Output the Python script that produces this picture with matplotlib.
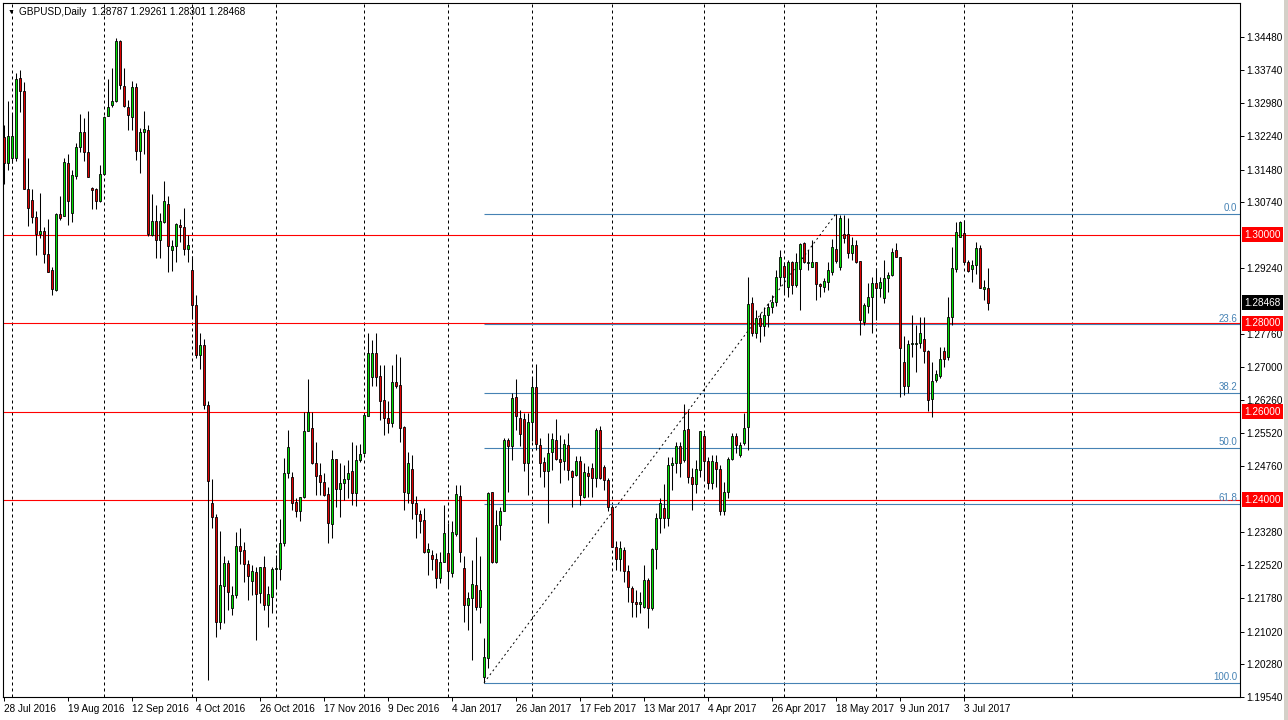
import matplotlib.pyplot as plt
import matplotlib.transforms as mtransforms
from matplotlib.patches import Rectangle

plt.rcParams["font.family"] = ["Liberation Sans", "DejaVu Sans"]

# GBPUSD daily bars, 28 Jul 2016 .. 11 Jul 2017 (bar index = trading day)
opens = [
    1.3221, 1.3162, 1.3173, 1.3173, 1.3356, 1.3325, 1.3104, 1.3078, 1.3040, 1.3002,
    1.3008, 1.2956, 1.2921, 1.2875, 1.3047, 1.3042, 1.3162, 1.3050, 1.3134, 1.3198,
    1.3232, 1.3188, 1.3107, 1.3103, 1.3076, 1.3137, 1.3269, 1.3294, 1.3303, 1.3438,
    1.3338, 1.3290, 1.3266, 1.3335, 1.3190, 1.3234, 1.3238, 1.3000, 1.3031, 1.2989,
    1.3029, 1.3070, 1.2966, 1.2975, 1.3022, 1.3018, 1.2968, 1.2920, 1.2842, 1.2729,
    1.2750, 1.2616, 1.2392, 1.2362, 1.2124, 1.2204, 1.2257, 1.2156, 1.2184, 1.2295,
    1.2287, 1.2254, 1.2216, 1.2237, 1.2189, 1.2248, 1.2161, 1.2180, 1.2243, 1.2243,
    1.2303, 1.2460, 1.2453, 1.2396, 1.2376, 1.2406, 1.2555, 1.2562, 1.2484, 1.2456,
    1.2441, 1.2413, 1.2345, 1.2492, 1.2424, 1.2438, 1.2447, 1.2466, 1.2415, 1.2490,
    1.2507, 1.2590, 1.2678, 1.2732, 1.2681, 1.2626, 1.2585, 1.2574, 1.2668, 1.2660,
    1.2565, 1.2416, 1.2471, 1.2392, 1.2367, 1.2354, 1.2281, 1.2276, 1.2266, 1.2224,
    1.2259, 1.2279, 1.2234, 1.2322, 1.2409, 1.2245, 1.2161, 1.2177, 1.2208, 1.2158,
    1.1998, 1.2043, 1.2417, 1.2260, 1.2343, 1.2374, 1.2536, 1.2521, 1.2632, 1.2585,
    1.2583, 1.2484, 1.2577, 1.2656, 1.2525, 1.2485, 1.2465, 1.2509, 1.2536, 1.2492,
    1.2487, 1.2525, 1.2466, 1.2456, 1.2488, 1.2406, 1.2460, 1.2473, 1.2449, 1.2558,
    1.2475, 1.2444, 1.2383, 1.2293, 1.2266, 1.2287, 1.2239, 1.2200, 1.2169, 1.2164,
    1.2157, 1.2219, 1.2155, 1.2289, 1.2359, 1.2381, 1.2359, 1.2479, 1.2483, 1.2522,
    1.2490, 1.2560, 1.2451, 1.2436, 1.2468, 1.2545, 1.2487, 1.2439, 1.2485, 1.2469,
    1.2374, 1.2419, 1.2492, 1.2545, 1.2502, 1.2528, 1.2566, 1.2845, 1.2777, 1.2811,
    1.2794, 1.2819, 1.2837, 1.2849, 1.2904, 1.2930, 1.2881, 1.2939, 1.2887, 1.2923,
    1.2981, 1.2936, 1.2928, 1.2939, 1.2889, 1.2881, 1.2894, 1.2915, 1.2968, 1.2928,
    1.3002, 1.3002, 1.2960, 1.2977, 1.2941, 1.2802, 1.2839, 1.2860, 1.2890, 1.2879,
    1.2857, 1.2903, 1.2909, 1.2966, 1.2949, 1.2712, 1.2659, 1.2752, 1.2752, 1.2755,
    1.2764, 1.2737, 1.2628, 1.2672, 1.2681, 1.2737, 1.2723, 1.2814, 1.2923, 1.2995,
    1.3004, 1.2939, 1.2922, 1.2932, 1.2970, 1.2877, 1.28787,
]
highs = [
    1.3248, 1.3303, 1.3277, 1.3367, 1.3373, 1.3347, 1.3175, 1.3103, 1.3053, 1.3094,
    1.3019, 1.3035, 1.2928, 1.3049, 1.3087, 1.3173, 1.3184, 1.3147, 1.3207, 1.3273,
    1.3264, 1.3280, 1.3109, 1.3107, 1.3159, 1.3269, 1.3352, 1.3377, 1.3445, 1.3441,
    1.3377, 1.3305, 1.3349, 1.3343, 1.3243, 1.3281, 1.3249, 1.3093, 1.3068, 1.3049,
    1.3123, 1.3089, 1.2989, 1.3028, 1.3036, 1.3060, 1.3000, 1.2953, 1.2863, 1.2777,
    1.2765, 1.2625, 1.2447, 1.2367, 1.2330, 1.2274, 1.2265, 1.2205, 1.2328, 1.2337,
    1.2304, 1.2265, 1.2253, 1.2249, 1.2249, 1.2273, 1.2204, 1.2249, 1.2275, 1.2356,
    1.2494, 1.2558, 1.2464, 1.2404, 1.2407, 1.2600, 1.2673, 1.2600, 1.2532, 1.2483,
    1.2460, 1.2430, 1.2513, 1.2492, 1.2483, 1.2479, 1.2490, 1.2532, 1.2524, 1.2527,
    1.2595, 1.2777, 1.2762, 1.2777, 1.2706, 1.2706, 1.2623, 1.2706, 1.2731, 1.2723,
    1.2568, 1.2509, 1.2502, 1.2409, 1.2378, 1.2381, 1.2302, 1.2287, 1.2279, 1.2283,
    1.2389, 1.2347, 1.2353, 1.2434, 1.2434, 1.2272, 1.2192, 1.2264, 1.2317, 1.2272,
    1.2087, 1.2417, 1.2419, 1.2377, 1.2385, 1.2540, 1.2540, 1.2642, 1.2673, 1.2604,
    1.2596, 1.2596, 1.2679, 1.2708, 1.2540, 1.2498, 1.2551, 1.2551, 1.2583, 1.2547,
    1.2537, 1.2551, 1.2468, 1.2499, 1.2499, 1.2483, 1.2477, 1.2483, 1.2562, 1.2567,
    1.2479, 1.2449, 1.2389, 1.2306, 1.2306, 1.2294, 1.2252, 1.2204, 1.2196, 1.2192,
    1.2253, 1.2223, 1.2291, 1.2370, 1.2404, 1.2436, 1.2498, 1.2498, 1.2532, 1.2532,
    1.2617, 1.2604, 1.2472, 1.2490, 1.2557, 1.2551, 1.2498, 1.2502, 1.2502, 1.2479,
    1.2441, 1.2498, 1.2551, 1.2551, 1.2532, 1.2596, 1.2905, 1.2860, 1.2830, 1.2823,
    1.2836, 1.2845, 1.2864, 1.2921, 1.2966, 1.2939, 1.2943, 1.2942, 1.2958, 1.2982,
    1.2985, 1.2966, 1.2988, 1.2939, 1.2891, 1.2902, 1.2939, 1.2990, 1.3048, 1.3045,
    1.3045, 1.3038, 1.2996, 1.2989, 1.2941, 1.2845, 1.2890, 1.2905, 1.2924, 1.2905,
    1.2943, 1.2917, 1.2970, 1.2981, 1.2951, 1.2770, 1.2762, 1.2819, 1.2796, 1.2815,
    1.2815, 1.2740, 1.2712, 1.2694, 1.2747, 1.2747, 1.2860, 1.2973, 1.3030, 1.3032,
    1.3034, 1.2943, 1.2943, 1.2983, 1.2977, 1.2898, 1.29261,
]
lows = [
    1.3116, 1.3147, 1.3163, 1.3168, 1.3279, 1.3103, 1.3020, 1.3026, 1.2954, 1.2992,
    1.2936, 1.2915, 1.2864, 1.2873, 1.3034, 1.3042, 1.3022, 1.3029, 1.3126, 1.3187,
    1.3168, 1.3131, 1.3058, 1.3058, 1.3075, 1.3136, 1.3269, 1.3290, 1.3301, 1.3330,
    1.3290, 1.3238, 1.3238, 1.3169, 1.3139, 1.3183, 1.2998, 1.2998, 1.2948, 1.2948,
    1.3026, 1.2917, 1.2918, 1.2939, 1.2985, 1.2954, 1.2939, 1.2814, 1.2722, 1.2697,
    1.2606, 1.1992, 1.2337, 1.2090, 1.2107, 1.2121, 1.2151, 1.2139, 1.2178, 1.2255,
    1.2214, 1.2174, 1.2185, 1.2083, 1.2166, 1.2151, 1.2113, 1.2144, 1.2200, 1.2219,
    1.2296, 1.2449, 1.2377, 1.2362, 1.2353, 1.2404, 1.2555, 1.2481, 1.2411, 1.2411,
    1.2409, 1.2302, 1.2313, 1.2385, 1.2361, 1.2400, 1.2404, 1.2389, 1.2387, 1.2486,
    1.2503, 1.2590, 1.2658, 1.2657, 1.2581, 1.2547, 1.2552, 1.2566, 1.2653, 1.2531,
    1.2377, 1.2392, 1.2356, 1.2313, 1.2324, 1.2280, 1.2230, 1.2242, 1.2201, 1.2211,
    1.2259, 1.2200, 1.2226, 1.2318, 1.2260, 1.2124, 1.2106, 1.2038, 1.2151, 1.2121,
    1.1986, 1.2019, 1.2257, 1.2257, 1.2309, 1.2374, 1.2419, 1.2490, 1.2558, 1.2521,
    1.2466, 1.2411, 1.2534, 1.2513, 1.2453, 1.2429, 1.2347, 1.2468, 1.2490, 1.2439,
    1.2468, 1.2445, 1.2383, 1.2454, 1.2389, 1.2404, 1.2407, 1.2407, 1.2430, 1.2447,
    1.2422, 1.2374, 1.2293, 1.2242, 1.2238, 1.2215, 1.2170, 1.2136, 1.2134, 1.2143,
    1.2155, 1.2109, 1.2151, 1.2243, 1.2325, 1.2336, 1.2340, 1.2422, 1.2460, 1.2453,
    1.2486, 1.2439, 1.2377, 1.2415, 1.2453, 1.2445, 1.2424, 1.2424, 1.2430, 1.2366,
    1.2366, 1.2404, 1.2490, 1.2506, 1.2498, 1.2524, 1.2513, 1.2770, 1.2766, 1.2758,
    1.2770, 1.2792, 1.2823, 1.2839, 1.2884, 1.2868, 1.2860, 1.2866, 1.2881, 1.2830,
    1.2936, 1.2921, 1.2928, 1.2853, 1.2860, 1.2871, 1.2875, 1.2909, 1.2937, 1.2921,
    1.2981, 1.2947, 1.2943, 1.2936, 1.2774, 1.2796, 1.2823, 1.2777, 1.2807, 1.2860,
    1.2845, 1.2871, 1.2907, 1.2949, 1.2634, 1.2638, 1.2641, 1.2723, 1.2690, 1.2743,
    1.2709, 1.2602, 1.2588, 1.2668, 1.2675, 1.2702, 1.2717, 1.2796, 1.2917, 1.2995,
    1.2939, 1.2917, 1.2894, 1.2912, 1.2879, 1.2853, 1.28301,
]
closes = [
    1.3162, 1.3223, 1.3223, 1.3354, 1.3325, 1.3104, 1.3062, 1.3040, 1.3002, 1.3009,
    1.2956, 1.2916, 1.2877, 1.3047, 1.3039, 1.3164, 1.3077, 1.3135, 1.3198, 1.3232,
    1.3188, 1.3131, 1.3102, 1.3077, 1.3137, 1.3267, 1.3290, 1.3303, 1.3438, 1.3339,
    1.3291, 1.3271, 1.3335, 1.3190, 1.3234, 1.3239, 1.3003, 1.3031, 1.2989, 1.3031,
    1.3077, 1.2974, 1.2975, 1.3024, 1.3018, 1.2968, 1.2977, 1.2842, 1.2729, 1.2750,
    1.2616, 1.2442, 1.2362, 1.2124, 1.2207, 1.2257, 1.2192, 1.2184, 1.2295, 1.2285,
    1.2254, 1.2228, 1.2239, 1.2187, 1.2248, 1.2161, 1.2187, 1.2243, 1.2246, 1.2303,
    1.2460, 1.2519, 1.2394, 1.2376, 1.2406, 1.2555, 1.2598, 1.2484, 1.2455, 1.2441,
    1.2411, 1.2348, 1.2492, 1.2424, 1.2438, 1.2447, 1.2460, 1.2415, 1.2490, 1.2505,
    1.2592, 1.2732, 1.2732, 1.2678, 1.2623, 1.2585, 1.2574, 1.2668, 1.2658, 1.2562,
    1.2417, 1.2483, 1.2392, 1.2367, 1.2353, 1.2281, 1.2289, 1.2266, 1.2224, 1.2260,
    1.2325, 1.2238, 1.2327, 1.2413, 1.2283, 1.2161, 1.2177, 1.2209, 1.2158, 1.2196,
    1.2044, 1.2415, 1.2260, 1.2343, 1.2374, 1.2536, 1.2521, 1.2630, 1.2589, 1.2549,
    1.2484, 1.2577, 1.2656, 1.2527, 1.2483, 1.2465, 1.2507, 1.2538, 1.2493, 1.2486,
    1.2527, 1.2468, 1.2451, 1.2488, 1.2411, 1.2463, 1.2455, 1.2449, 1.2558, 1.2449,
    1.2444, 1.2385, 1.2293, 1.2266, 1.2291, 1.2238, 1.2202, 1.2168, 1.2164, 1.2169,
    1.2219, 1.2155, 1.2289, 1.2359, 1.2392, 1.2359, 1.2479, 1.2484, 1.2522, 1.2483,
    1.2558, 1.2451, 1.2436, 1.2469, 1.2555, 1.2487, 1.2439, 1.2487, 1.2469, 1.2374,
    1.2419, 1.2492, 1.2545, 1.2524, 1.2524, 1.2562, 1.2843, 1.2777, 1.2811, 1.2794,
    1.2819, 1.2837, 1.2849, 1.2904, 1.2949, 1.2904, 1.2939, 1.2887, 1.2939, 1.2979,
    1.2939, 1.2939, 1.2939, 1.2889, 1.2885, 1.2896, 1.2921, 1.2972, 1.2942, 1.3038,
    1.2993, 1.2960, 1.2977, 1.2939, 1.2807, 1.2841, 1.2860, 1.2890, 1.2879, 1.2894,
    1.2902, 1.2909, 1.2961, 1.2949, 1.2743, 1.2659, 1.2752, 1.2755, 1.2755, 1.2777,
    1.2737, 1.2626, 1.2670, 1.2685, 1.2718, 1.2720, 1.2814, 1.2924, 1.3006, 1.3029,
    1.2939, 1.2918, 1.2932, 1.2971, 1.2879, 1.2881, 1.28468,
]

# horizontal levels
key_levels = [1.30, 1.28, 1.26, 1.24]

# fibonacci from the Jan 2017 low bar to the May 2017 high bar
fib_low, fib_high = 1.1986, 1.3048
fib_low_bar, fib_high_bar = 120, 208
fib_levels = [0.0, 23.6, 38.2, 50.0, 61.8, 100.0]

# price scale labels
price_ticks = [1.34480, 1.33740, 1.32980, 1.32240, 1.31480, 1.30740, 1.29240,
               1.27760, 1.27000, 1.26260, 1.25520, 1.24760, 1.23280, 1.22520,
               1.21780, 1.21020, 1.20280, 1.19540]

# time scale labels (bar index of each label)
date_bars = [0, 16, 32, 48, 64, 80, 96, 112, 128, 144, 160, 176, 192, 208, 224, 240]
date_labels = ["28 Jul 2016", "19 Aug 2016", "12 Sep 2016", "4 Oct 2016",
               "26 Oct 2016", "17 Nov 2016", "9 Dec 2016", "4 Jan 2017",
               "26 Jan 2017", "17 Feb 2017", "13 Mar 2017", "4 Apr 2017",
               "26 Apr 2017", "18 May 2017", "9 Jun 2017", "3 Jul 2017"]

# first bar of each month (vertical grid)
month_bars = [2, 25, 47, 68, 90, 111, 132, 152, 175, 195, 218, 240, 267]

W, H = 1288, 720
fig = plt.figure(figsize=(W / 100, H / 100), dpi=100)
fig.patch.set_facecolor("white")
ax = fig.add_axes([3 / W, 23 / H, 1237 / W, 694 / H])
ax.set_xlim(-0.25, 309)
ax.set_ylim(1.19538, 1.35250)
for s in ax.spines.values():
    s.set_color("black")
    s.set_linewidth(0.8)

# month grid
for m in month_bars:
    ax.axvline(m, color="black", lw=0.72, ls=(0, (3, 3)), zorder=1)

# key levels
for lv in key_levels:
    ax.axhline(lv, color="#FF0000", lw=0.8, zorder=2)

# fibonacci
rng = fib_high - fib_low
for lv in fib_levels:
    p = fib_high - rng * lv / 100.0
    ax.hlines(p, fib_low_bar, 309, color="#4682B4", lw=0.8, zorder=2)
    ax.text(308.3, p + 0.0002, f"{lv:.1f}", ha="right", va="bottom",
            fontsize=7, color="#4682B4", zorder=5)
ax.plot([fib_low_bar, fib_high_bar], [fib_low, fib_high], color="black",
        lw=0.7, ls=(0, (2, 3)), zorder=2)

# candles
xs = list(range(len(closes)))
colors = ["#00E000" if c > o else "#E00000" for o, c in zip(opens, closes)]
ax.vlines(xs, lows, highs, color="black", lw=0.75, zorder=3)
ax.bar(xs, [max(abs(c - o), 0.00002) for o, c in zip(opens, closes)],
       bottom=[min(o, c) for o, c in zip(opens, closes)], width=0.72,
       color=colors, edgecolor="black", linewidth=0.6, zorder=4)

# axes ticks
ax.yaxis.tick_right()
ax.set_yticks(price_ticks)
ax.set_yticklabels([f"{v:.5f}" for v in price_ticks])
ax.tick_params(axis="y", length=3, width=0.7, pad=1.5, labelsize=7.2, colors="black")
ax.set_xticks(date_bars)
ax.set_xticklabels(date_labels)
ax.tick_params(axis="x", length=3, width=0.7, pad=2, labelsize=7.2)
plt.setp(ax.get_xticklabels(), ha="left")

# level boxes on the price scale
trans = mtransforms.blended_transform_factory(ax.transAxes, ax.transData)
for lv in key_levels:
    ax.text(1.0 + 4 / 1237, lv, f"{lv:.5f}", transform=trans, ha="left",
            va="center", fontsize=7.2, color="white", zorder=6, clip_on=False,
            bbox=dict(boxstyle="square,pad=0.25", fc="#FF0000", ec="none"))
ax.text(1.0 + 4 / 1237, closes[-1], f"{closes[-1]:.5f}", transform=trans,
        ha="left", va="center", fontsize=7.2, color="white", zorder=6,
        clip_on=False, bbox=dict(boxstyle="square,pad=0.25", fc="black", ec="none"))

# header
fig.text(8 / W, 1 - 12 / H, "\u25BC", fontsize=5, va="center", ha="left")
fig.text(19 / W, 1 - 12 / H,
         f"GBPUSD,Daily  {opens[-1]:.5f} {highs[-1]:.5f} {lows[-1]:.5f} {closes[-1]:.5f}",
         fontsize=7.2, va="center", ha="left")

# window edge at the right
fig.patches.append(Rectangle((1284 / W, 0), 4 / W, 1, transform=fig.transFigure,
                             fc="#D4D0C8", ec="none"))

fig.savefig("out.png", dpi=100)
